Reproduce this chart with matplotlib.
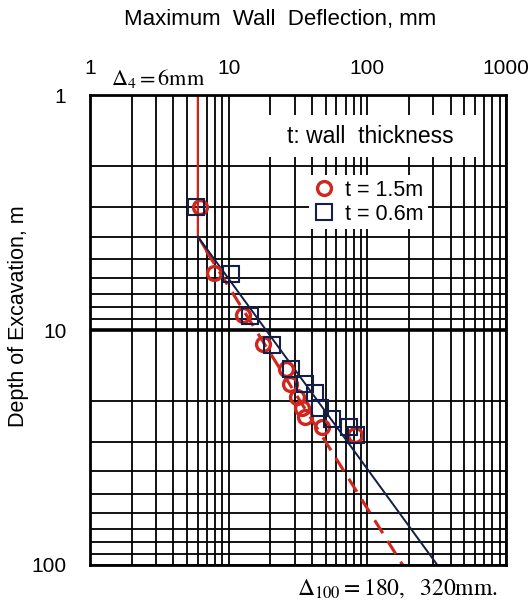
import matplotlib
matplotlib.use('Agg')
import matplotlib.pyplot as plt
from matplotlib.patches import Rectangle
from matplotlib.ticker import LogLocator, NullFormatter

plt.rcParams['font.family'] = ['Liberation Sans', 'DejaVu Sans']
plt.rcParams['mathtext.fontset'] = 'stix'

# t = 1.5m wall (red circles)
thick_defl = [6.2, 7.8, 12.6, 17.8, 25.9, 27.7, 30.9, 33.6, 35.5, 46.8, 82]
thick_depth = [3.0, 5.7, 8.6, 11.5, 14.6, 16.9, 19.2, 21.5, 23.5, 25.8, 28]
# t = 0.6m wall (navy squares)
thin_defl = [5.8, 10.4, 14.3, 20.4, 28, 35.5, 41.9, 46, 56, 74, 83]
thin_depth = [3.0, 5.8, 8.7, 11.6, 14.6, 16.9, 18.6, 21.5, 23.8, 25.8, 28]

# trend lines
red_solid_defl = [6, 6, 6.9]
red_solid_depth = [1, 4.0, 4.6]
red_dash_defl = [6.9, 180]
red_dash_depth = [4.6, 100]
navy_defl = [6, 320]
navy_depth = [4.0, 100]

red = '#d0261c'
navy = '#141e46'

fig = plt.figure(figsize=(5.32, 6.04), dpi=100)
ax = fig.add_axes([0.169, 0.0646, 0.782, 0.778])
ax.set_xscale('log')
ax.set_yscale('log')
ax.set_xlim(1, 1000)
ax.set_ylim(100, 1)
ax.set_axisbelow(True)

ax.grid(True, which='both', color='black', lw=1.3)
ax.axhline(10, color='black', lw=2.6, zorder=0.6)
for s in ax.spines.values():
    s.set_linewidth(2)

ax.xaxis.tick_top()
ax.set_xticks([1, 10, 100, 1000])
ax.set_xticklabels(['1', '10', '100', '1000'])
ax.set_yticks([1, 10, 100])
ax.set_yticklabels(['1', '10', '100'])
ax.xaxis.set_minor_locator(LogLocator(base=10, subs=range(2, 10)))
ax.yaxis.set_minor_locator(LogLocator(base=10, subs=range(2, 10)))
ax.xaxis.set_minor_formatter(NullFormatter())
ax.yaxis.set_minor_formatter(NullFormatter())
ax.tick_params(which='both', length=0, labelsize=15)
ax.tick_params(axis='x', pad=12)
ax.tick_params(axis='y', pad=17)

# white box behind the note
ax.add_patch(Rectangle((0.413, 0.868), 0.52, 0.089, transform=ax.transAxes,
                       facecolor='white', edgecolor='none', zorder=1))
ax.text(0.673, 0.912, 't: wall  thickness', transform=ax.transAxes,
        ha='center', va='center', fontsize=16.5, zorder=2)

ax.plot(red_solid_defl, red_solid_depth, color=red, lw=1.6, zorder=2)
ax.plot(red_dash_defl, red_dash_depth, color=red, lw=2.2, dashes=(5, 3), zorder=2)
ax.plot(navy_defl, navy_depth, color=navy, lw=1.4, zorder=2)

c = ax.plot(thick_defl, thick_depth, 'o', ms=10, mfc='none', mec=red, mew=2.4,
            zorder=3, label='t = 1.5m')[0]
q = ax.plot(thin_defl, thin_depth, 's', ms=12, mfc='none', mec=navy, mew=1.5,
            zorder=3, label='t = 0.6m')[0]
leg = ax.legend(handles=[c, q], loc='upper left', bbox_to_anchor=(0.5, 0.852),
                fontsize=15.5, frameon=True, fancybox=False, framealpha=1,
                handletextpad=0.5, borderpad=0.2, labelspacing=0.15,
                handlelength=1.0)
leg.get_frame().set_edgecolor('none')
leg.set_zorder(4)

fig.text(280 / 532, 1 - 19 / 604, 'Maximum  Wall  Deflection, mm', ha='center',
         va='center', fontsize=16)
fig.text(0.034, 1 - 316 / 604, 'Depth of Excavation, m', rotation=90,
         ha='center', va='center', fontsize=15.5)
fig.text(111 / 532, 1 - 79 / 604, r'$\Delta_4 = 6\mathrm{mm}$', ha='left',
         va='center', fontsize=16)
fig.text(297 / 532, 1 - 589 / 604, r'$\Delta_{100} = 180,\ \ 320\mathrm{mm.}$',
         ha='left', va='center', fontsize=17)

fig.savefig('out.png', dpi=100)
